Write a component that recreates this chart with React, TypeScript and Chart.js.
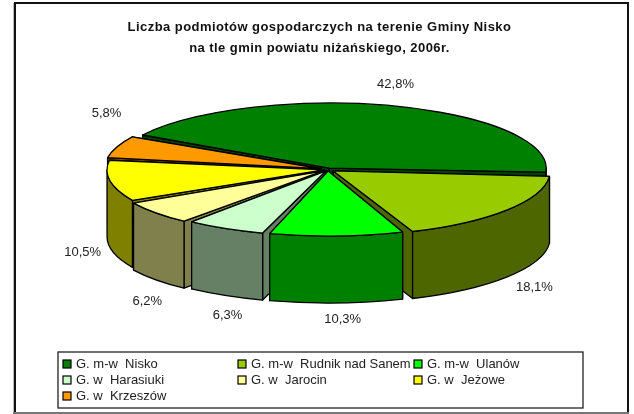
import React, { useEffect, useRef } from "react";
import { Chart, registerables } from "chart.js";

Chart.register(...registerables);

const categories = [
  "G. m-w  Nisko",
  "G. m-w  Rudnik nad Sanem",
  "G. m-w  Ulanów",
  "G. w  Harasiuki",
  "G. w  Jarocin",
  "G. w  Jeżowe",
  "G. w  Krzeszów",
];
const shares = [42.8, 18.1, 10.3, 6.3, 6.2, 10.5, 5.8];
const topColors = ["#008000", "#99CC00", "#00FF00", "#CCFFCC", "#FFFF99", "#FFFF00", "#FF9900"];
const wallColors = ["#004000", "#4D6600", "#008000", "#668066", "#80804D", "#808000", "#804D00"];
const titleLines = ["Liczba podmiotów gospodarczych na terenie Gminy Nisko", "na tle gmin powiatu niżańskiego, 2006r."];

const FONT = "'Liberation Sans', Arial, sans-serif";
const SQUASH = 0.3;
const DEPTH = 67;
const SHIFT_X = 8.5;
const explodes = [4, 6.5, 4, 4, 7, 4, 7];
const EXPLODE_V = 0.35;
const EDGE_GAP = (0.7 * Math.PI) / 180;
const labelNudges = [[-6, -2], [5, -1], [5, -4], [16, 2], [12, 9], [2, 1], [15, -27]];
const legendColumns = [63, 238, 414];
const legendRows = [364, 380, 396];

const pie3d = {
  id: "pie3d",
  beforeDraw(chart: any) {
    const { ctx } = chart;
    ctx.save();
    ctx.fillStyle = "#fff";
    ctx.fillRect(0, 0, chart.width, chart.height);
    ctx.fillStyle = "#111";
    ctx.fillRect(14, 2, 615, 2);
    ctx.fillRect(14, 2, 2, 411);
    ctx.fillRect(627, 2, 2, 411);
    ctx.fillStyle = "#bbb";
    ctx.fillRect(13, 3, 1, 410);
    ctx.fillStyle = "#777";
    ctx.fillRect(13, 412, 616, 2);
    ctx.restore();
    (ctx as any).letterSpacing = "0.44px";
  },
  beforeDatasetDraw(chart: any, args: any) {
    const { ctx } = chart;
    (ctx as any).letterSpacing = "0px";
    const meta = chart.getDatasetMeta(args.index);
    const slices = meta.data.map((arc: any, i: number) => {
      const mid = (arc.startAngle + arc.endAngle) / 2;
      return {
        i,
        mid,
        start: arc.startAngle + EDGE_GAP,
        end: arc.endAngle - EDGE_GAP,
        r: arc.outerRadius,
        rv: arc.outerRadius * SQUASH,
        x: arc.x + SHIFT_X + Math.cos(mid) * explodes[i],
        y: arc.y + Math.sin(mid) * explodes[i] * EXPLODE_V,
      };
    });
    ctx.save();
    ctx.lineWidth = 1.3;
    ctx.strokeStyle = "#000";
    ctx.lineJoin = "round";

    const px = (s: any, a: number) => s.x + Math.cos(a) * s.r;
    const py = (s: any, a: number) => s.y + Math.sin(a) * s.rv;

    const radial = (s: any, a: number) => {
      ctx.beginPath();
      ctx.moveTo(s.x, s.y);
      ctx.lineTo(px(s, a), py(s, a));
      ctx.lineTo(px(s, a), py(s, a) + DEPTH);
      ctx.lineTo(s.x, s.y + DEPTH);
      ctx.closePath();
      ctx.fillStyle = wallColors[s.i];
      ctx.fill();
      ctx.stroke();
    };

    const ordered = [...slices].sort((a: any, b: any) => Math.sin(a.mid) - Math.sin(b.mid));
    ordered.forEach((s: any) => {
      // the radial face nearer the viewer goes last, so it hides the other one's lower edge
      if (Math.sin(s.start) < Math.sin(s.end)) {
        radial(s, s.start);
        radial(s, s.end);
      } else {
        radial(s, s.end);
        radial(s, s.start);
      }
      const lo = Math.max(s.start, 0);
      const hi = Math.min(s.end, Math.PI);
      if (hi > lo) {
        ctx.beginPath();
        ctx.ellipse(s.x, s.y, s.r, s.rv, 0, lo, hi);
        ctx.lineTo(px(s, hi), py(s, hi) + DEPTH);
        ctx.ellipse(s.x, s.y + DEPTH, s.r, s.rv, 0, hi, lo, true);
        ctx.closePath();
        ctx.fillStyle = wallColors[s.i];
        ctx.fill();
        ctx.stroke();
      }
    });

    slices.forEach((s: any) => {
      ctx.beginPath();
      ctx.moveTo(s.x, s.y);
      ctx.ellipse(s.x, s.y, s.r, s.rv, 0, s.start, s.end);
      ctx.closePath();
      ctx.fillStyle = topColors[s.i];
      ctx.fill();
      ctx.stroke();
    });

    // data labels
    ctx.font = `13px ${FONT}`;
    ctx.fillStyle = "#222";
    ctx.textAlign = "center";
    ctx.textBaseline = "middle";
    slices.forEach((s: any) => {
      const c = Math.cos(s.mid);
      const n = Math.sin(s.mid);
      const lx = meta.data[s.i].x + SHIFT_X + c * (s.r + 34) + labelNudges[s.i][0];
      const ly = meta.data[s.i].y + (n > 0 ? DEPTH : 0) + n * (s.rv + 22) + labelNudges[s.i][1];
      const text = shares[s.i].toFixed(1).replace(".", ",") + "%";
      ctx.fillText(text, lx, ly);
    });
    ctx.restore();
    return false;
  },
  afterDraw(chart: any) {
    const { ctx } = chart;
    ctx.save();
    ctx.strokeStyle = "#222";
    ctx.lineWidth = 1.3;
    ctx.strokeRect(58, 352, 525, 56);
    ctx.font = `13px ${FONT}`;
    ctx.textAlign = "left";
    ctx.textBaseline = "middle";
    chart.data.labels.forEach((label: string, i: number) => {
      const col = legendColumns[i % 3];
      const row = legendRows[Math.floor(i / 3)];
      ctx.fillStyle = topColors[i];
      ctx.fillRect(col, row - 4, 8, 8);
      ctx.lineWidth = 1.2;
      ctx.strokeStyle = "#000";
      ctx.strokeRect(col, row - 4, 8, 8);
      ctx.fillStyle = "#222";
      ctx.fillText(label, col + 13, row);
    });
    ctx.restore();
  },
};

export default function App() {
  const ref = useRef<HTMLCanvasElement | null>(null);
  useEffect(() => {
    if (!ref.current) return;
    const chart = new Chart(ref.current, {
      type: "pie",
      data: {
        labels: categories,
        datasets: [
          {
            data: shares,
            backgroundColor: topColors,
            borderColor: "#000",
            borderWidth: 1,
            radius: 217,
          } as any,
        ],
      },
      options: {
        responsive: false,
        animation: false,
        rotation: -60,
        layout: { padding: { left: 5, right: 0, top: 10, bottom: 154 } },
        plugins: {
          legend: { display: false },
          tooltip: { enabled: false },
          title: {
            display: true,
            text: titleLines,
            color: "#111",
            font: { family: FONT, size: 13, weight: "bold", lineHeight: 1.62 },
            padding: { top: 7, bottom: 20 },
          },
        },
      } as any,
      plugins: [pie3d as any],
    });
    return () => chart.destroy();
  }, []);
  return (
    <div style={{ position: "absolute", left: 0, top: 0, width: 634, height: 414 }}>
      <canvas ref={ref} width={634} height={414} style={{ display: "block" }} />
    </div>
  );
}
